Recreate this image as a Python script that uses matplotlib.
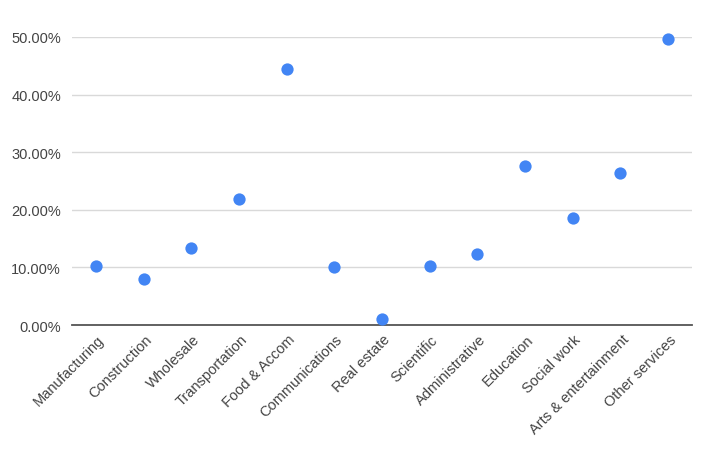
import numpy as np
import matplotlib.pyplot as plt
from matplotlib.ticker import FuncFormatter
from matplotlib.transforms import ScaledTranslation

plt.rcParams['font.family'] = ['Liberation Sans', 'DejaVu Sans']

sectors = ['Manufacturing', 'Construction', 'Wholesale', 'Transportation',
           'Food & Accom', 'Communications', 'Real estate', 'Scientific',
           'Administrative', 'Education', 'Social work', 'Arts & entertainment',
           'Other services']
share = [0.103, 0.080, 0.134, 0.219, 0.445, 0.100, 0.010, 0.102,
         0.123, 0.276, 0.186, 0.264, 0.496]

fig = plt.figure(figsize=(7.06, 4.6), dpi=100)
ax = fig.add_axes([72/706, 134/460, 620/706, 288/460])

x = np.arange(len(sectors))
ax.scatter(x, share, s=78, color='#4285f4', zorder=3, clip_on=False, linewidths=0)

ax.set_xlim(-0.5, len(sectors) - 0.5)
ax.set_ylim(0, 0.5)
ax.set_yticks([0, 0.1, 0.2, 0.3, 0.4, 0.5])
ax.yaxis.set_major_formatter(FuncFormatter(lambda v, p: f'{v*100:.2f}%'))
ax.grid(axis='y', color='#d9d9d9', linewidth=1)
ax.set_axisbelow(True)
for s in ['top', 'right', 'left']:
    ax.spines[s].set_visible(False)
ax.spines['bottom'].set_color('#555555')
ax.spines['bottom'].set_linewidth(1.3)
ax.spines['bottom'].set_zorder(2)

ax.set_xticks(x)
ax.set_xticklabels(sectors, rotation=45, ha='right', rotation_mode='anchor')
ax.tick_params(axis='both', length=0, labelsize=10.5, colors='#444444')
ax.tick_params(axis='x', pad=5)
ax.tick_params(axis='y', pad=8)
off = ScaledTranslation(1/100, 0, fig.dpi_scale_trans)
for lab in ax.get_xticklabels():
    lab.set_transform(lab.get_transform() + off)

plt.savefig('out.png', dpi=100)
